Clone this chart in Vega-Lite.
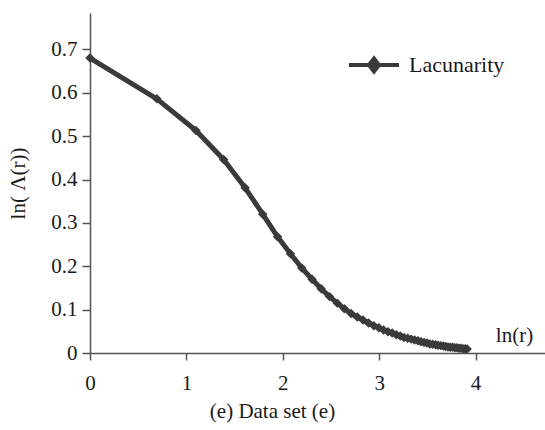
{
  "$schema": "https://vega.github.io/schema/vega-lite/v6.json",
  "width": 455,
  "height": 340,
  "autosize": "none",
  "padding": {"left": 90, "top": 13, "right": 0, "bottom": 77},
  "background": "white",
  "config": {"view": {"stroke": null}, "font": "Liberation Serif"},
  "title": {"text": "(e) Data set (e)", "orient": "bottom", "anchor": "middle", "dx": -45, "offset": 8, "fontSize": 21, "fontWeight": "normal", "color": "#1a1a1a", "font": "Liberation Serif"},
  "data": {"values": [
    {"r": 1, "lnr": 0, "lac": 0.680, "series": "Lacunarity"},
    {"r": 2, "lnr": 0.693, "lac": 0.586, "series": "Lacunarity"},
    {"r": 3, "lnr": 1.099, "lac": 0.513, "series": "Lacunarity"},
    {"r": 4, "lnr": 1.386, "lac": 0.446, "series": "Lacunarity"},
    {"r": 5, "lnr": 1.609, "lac": 0.381, "series": "Lacunarity"},
    {"r": 6, "lnr": 1.792, "lac": 0.320, "series": "Lacunarity"},
    {"r": 7, "lnr": 1.946, "lac": 0.268, "series": "Lacunarity"},
    {"r": 8, "lnr": 2.079, "lac": 0.229, "series": "Lacunarity"},
    {"r": 9, "lnr": 2.197, "lac": 0.196, "series": "Lacunarity"},
    {"r": 10, "lnr": 2.303, "lac": 0.170, "series": "Lacunarity"},
    {"r": 11, "lnr": 2.398, "lac": 0.148, "series": "Lacunarity"},
    {"r": 12, "lnr": 2.485, "lac": 0.130, "series": "Lacunarity"},
    {"r": 13, "lnr": 2.565, "lac": 0.115, "series": "Lacunarity"},
    {"r": 14, "lnr": 2.639, "lac": 0.102, "series": "Lacunarity"},
    {"r": 15, "lnr": 2.708, "lac": 0.091, "series": "Lacunarity"},
    {"r": 16, "lnr": 2.773, "lac": 0.083, "series": "Lacunarity"},
    {"r": 17, "lnr": 2.833, "lac": 0.076, "series": "Lacunarity"},
    {"r": 18, "lnr": 2.890, "lac": 0.069, "series": "Lacunarity"},
    {"r": 19, "lnr": 2.944, "lac": 0.063, "series": "Lacunarity"},
    {"r": 20, "lnr": 2.996, "lac": 0.058, "series": "Lacunarity"},
    {"r": 21, "lnr": 3.045, "lac": 0.053, "series": "Lacunarity"},
    {"r": 22, "lnr": 3.091, "lac": 0.049, "series": "Lacunarity"},
    {"r": 23, "lnr": 3.135, "lac": 0.046, "series": "Lacunarity"},
    {"r": 24, "lnr": 3.178, "lac": 0.042, "series": "Lacunarity"},
    {"r": 25, "lnr": 3.219, "lac": 0.039, "series": "Lacunarity"},
    {"r": 26, "lnr": 3.258, "lac": 0.036, "series": "Lacunarity"},
    {"r": 27, "lnr": 3.296, "lac": 0.034, "series": "Lacunarity"},
    {"r": 28, "lnr": 3.332, "lac": 0.032, "series": "Lacunarity"},
    {"r": 29, "lnr": 3.367, "lac": 0.030, "series": "Lacunarity"},
    {"r": 30, "lnr": 3.401, "lac": 0.028, "series": "Lacunarity"},
    {"r": 31, "lnr": 3.434, "lac": 0.026, "series": "Lacunarity"},
    {"r": 32, "lnr": 3.466, "lac": 0.024, "series": "Lacunarity"},
    {"r": 33, "lnr": 3.497, "lac": 0.023, "series": "Lacunarity"},
    {"r": 34, "lnr": 3.526, "lac": 0.021, "series": "Lacunarity"},
    {"r": 35, "lnr": 3.555, "lac": 0.020, "series": "Lacunarity"},
    {"r": 36, "lnr": 3.584, "lac": 0.019, "series": "Lacunarity"},
    {"r": 37, "lnr": 3.611, "lac": 0.018, "series": "Lacunarity"},
    {"r": 38, "lnr": 3.638, "lac": 0.017, "series": "Lacunarity"},
    {"r": 39, "lnr": 3.664, "lac": 0.016, "series": "Lacunarity"},
    {"r": 40, "lnr": 3.689, "lac": 0.015, "series": "Lacunarity"},
    {"r": 41, "lnr": 3.714, "lac": 0.014, "series": "Lacunarity"},
    {"r": 42, "lnr": 3.738, "lac": 0.013, "series": "Lacunarity"},
    {"r": 43, "lnr": 3.761, "lac": 0.013, "series": "Lacunarity"},
    {"r": 44, "lnr": 3.784, "lac": 0.012, "series": "Lacunarity"},
    {"r": 45, "lnr": 3.807, "lac": 0.012, "series": "Lacunarity"},
    {"r": 46, "lnr": 3.829, "lac": 0.011, "series": "Lacunarity"},
    {"r": 47, "lnr": 3.850, "lac": 0.011, "series": "Lacunarity"},
    {"r": 48, "lnr": 3.871, "lac": 0.010, "series": "Lacunarity"},
    {"r": 49, "lnr": 3.892, "lac": 0.010, "series": "Lacunarity"},
    {"r": 50, "lnr": 3.912, "lac": 0.009, "series": "Lacunarity"}
  ]},
  "encoding": {
    "x": {
      "field": "lnr", "type": "quantitative",
      "scale": {"domain": [0, 4.72], "nice": false, "zero": false},
      "axis": {
        "values": [0, 1, 2, 3, 4], "grid": false, "labelFlush": false,
        "domainColor": "#555555", "domainWidth": 1.5,
        "tickColor": "#555555", "tickWidth": 1.5, "tickSize": 7,
        "labelFont": "Liberation Serif", "labelFontSize": 21, "labelColor": "#1a1a1a", "labelPadding": 12,
        "title": "ln(r)", "titleFont": "Liberation Serif", "titleFontSize": 21, "titleFontWeight": "normal", "titleColor": "#1a1a1a",
        "titleX": 424, "titleY": -18, "titleAlign": "center", "titleBaseline": "middle", "titleAnchor": null
      }
    },
    "y": {
      "field": "lac", "type": "quantitative",
      "scale": {"domain": [0, 0.784], "nice": false, "zero": true},
      "axis": {
        "values": [0, 0.1, 0.2, 0.3, 0.4, 0.5, 0.6, 0.7], "format": "~g", "grid": false, "labelFlush": false,
        "domainColor": "#555555", "domainWidth": 1.5,
        "tickColor": "#555555", "tickWidth": 1.5, "tickSize": 8,
        "labelFont": "Liberation Serif", "labelFontSize": 21, "labelColor": "#1a1a1a", "labelPadding": 5,
        "title": "ln( Λ(r))", "titleFont": "Liberation Serif", "titleFontSize": 21, "titleFontWeight": "normal", "titleColor": "#1a1a1a",
        "titlePadding": 22
      }
    }
  },
  "layer": [
    {
      "mark": {"type": "line", "strokeWidth": 5, "strokeCap": "round", "strokeJoin": "round"},
      "encoding": {
        "color": {
          "field": "series", "type": "nominal",
          "scale": {"range": ["#3a3a3a"]},
          "legend": {
            "orient": "none", "legendX": 257, "legendY": 25, "title": null, "padding": 0,
            "symbolType": "M-1,0L1,0M-0.2,0L0,-0.26L0.2,0L0,0.26Z",
            "symbolSize": 2500, "symbolStrokeWidth": 4,
            "symbolFillColor": "#3a3a3a", "symbolStrokeColor": "#3a3a3a",
            "labelFont": "Liberation Serif", "labelFontSize": 22, "labelColor": "#1a1a1a", "labelOffset": 8,
            "encode": {"symbols": {"update": {"fill": {"value": "#3a3a3a"}, "stroke": {"value": "#3a3a3a"}, "strokeWidth": {"value": 4}}}}
          }
        }
      }
    },
    {
      "mark": {"type": "point", "shape": "diamond", "filled": true, "size": 90, "opacity": 1, "color": "#3a3a3a"}
    }
  ]
}
